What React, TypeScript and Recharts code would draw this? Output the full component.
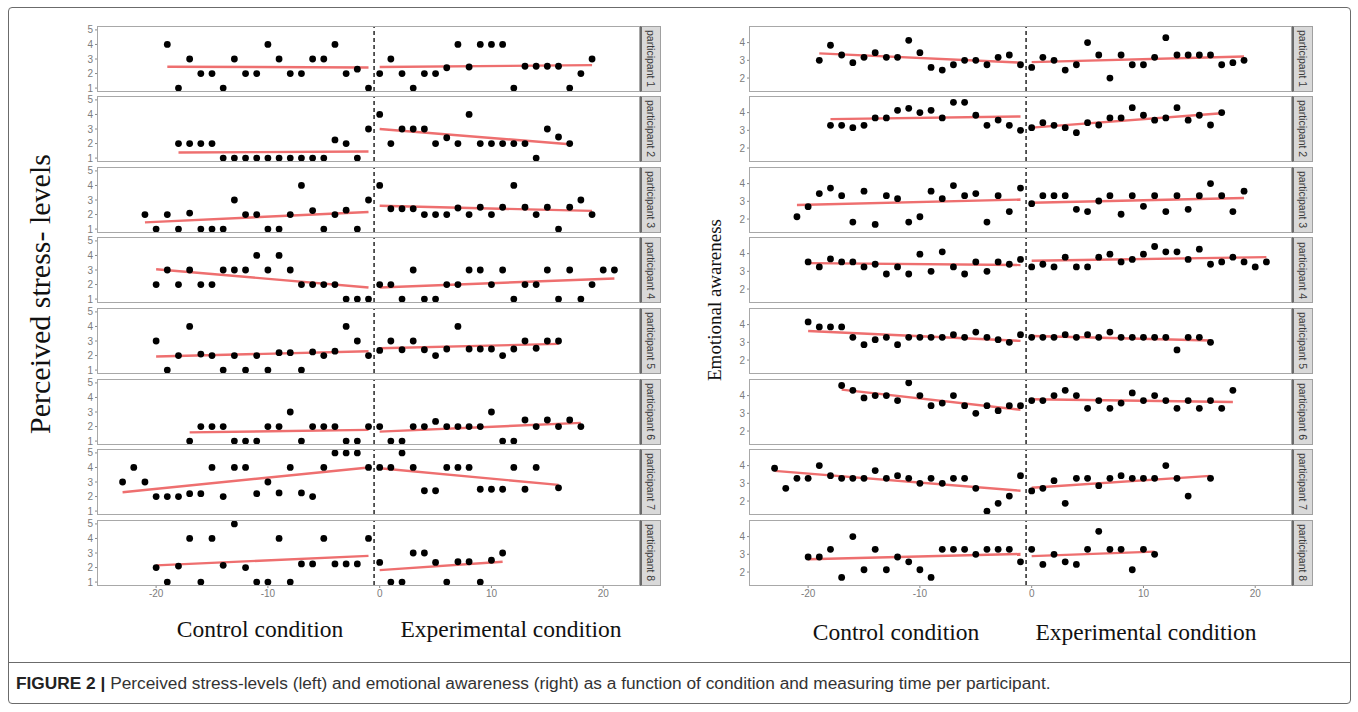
import React from 'react';
import { ScatterChart, Scatter, XAxis, YAxis, ReferenceLine } from 'recharts';

type Pt = [number, number];
type Fit = [number, number, number, number];

// ---------- Perceived stress-levels (left) ----------
const stressP1: Pt[] = [[-19,4],[-18,1],[-17,3],[-16,2],[-15,2],[-14,1],[-13,3],[-12,2],[-11,2],[-10,4],[-9,3],[-8,2],[-7,2],[-6,3],[-5,3],[-4,4],[-3,2],[-2,2.3],[-1,1],[0,2],[1,3],[2,2],[3,1],[4,2],[5,2],[6,2.4],[7,4],[8,2.45],[9,4],[10,4],[11,4],[12,1],[13,2.5],[14,2.5],[15,2.5],[16,2.5],[17,1],[18,2],[19,3]];
const stressP2: Pt[] = [[-18,2],[-17,2],[-16,2],[-15,2],[-14,1],[-13,1],[-12,1],[-11,1],[-10,1],[-9,1],[-8,1],[-7,1],[-6,1],[-5,1],[-4,2.25],[-3,2],[-2,1],[-1,3],[0,4],[1,2],[2,3],[3,3],[4,3],[5,2],[6,2.4],[7,2],[8,4],[9,2],[10,2],[11,2],[12,2],[13,2],[14,1],[15,3],[16,2.45],[17,2]];
const stressP3: Pt[] = [[-21,2],[-20,1],[-19,2],[-18,1],[-17,2.1],[-16,1],[-15,1],[-14,1],[-13,3],[-12,2],[-11,2],[-10,1],[-9,1],[-8,2],[-7,4],[-6,2.27],[-5,1],[-4,2],[-3,2.3],[-2,1],[-1,3],[0,4],[1,2.4],[2,2.4],[3,2.4],[4,2],[5,2],[6,2],[7,2.45],[8,2],[9,2.5],[10,2],[11,2.5],[12,4],[13,2.5],[14,2],[15,2.5],[16,1],[17,2.5],[18,3],[19,2]];
const stressP4: Pt[] = [[-20,2],[-19,3],[-18,2],[-17,3],[-16,2],[-15,2],[-14,3],[-13,3],[-12,3],[-11,4],[-10,3],[-9,4],[-8,3],[-7,2],[-6,2],[-5,2],[-4,2],[-3,1],[-2,1],[-1,1],[0,2],[1,2],[2,1],[3,3],[4,1],[5,1],[6,2],[7,2],[8,3],[9,3],[10,2],[11,3],[12,1],[13,2],[14,2],[15,3],[16,1],[17,3],[18,1],[19,2],[20,3],[21,3]];
const stressP5: Pt[] = [[-20,3],[-19,1],[-18,2],[-17,4],[-16,2.1],[-15,2],[-14,1],[-13,2],[-12,1],[-11,2],[-10,1],[-9,2.2],[-8,2.2],[-7,1],[-6,2.25],[-5,2],[-4,2.3],[-3,4],[-2,3],[-1,2],[0,2.35],[1,3],[2,2.4],[3,3],[4,2.4],[5,2],[6,2.45],[7,4],[8,2.45],[9,2.45],[10,2.45],[11,2],[12,2.45],[13,3],[14,2.5],[15,3],[16,3]];
const stressP6: Pt[] = [[-17,1],[-16,2],[-15,2],[-14,2],[-13,1],[-12,1],[-11,1],[-10,2],[-9,2],[-8,3],[-7,1],[-6,2],[-5,2],[-4,2],[-3,1],[-2,1],[-1,2],[0,2],[1,1],[2,1],[3,2],[4,2],[5,2.35],[6,2],[7,2],[8,2],[9,2],[10,3],[11,1],[12,1],[13,2.45],[14,2],[15,2.45],[16,2],[17,2.45],[18,2]];
const stressP7: Pt[] = [[-23,3],[-22,4],[-21,3],[-20,2],[-19,2],[-18,2],[-17,2.2],[-16,2.2],[-15,4],[-14,2],[-13,4],[-12,4],[-11,2.2],[-10,3],[-9,2.25],[-8,4],[-7,2.25],[-6,2],[-5,4],[-4,5],[-3,5],[-2,5],[-1,4],[0,4],[1,4],[2,5],[3,4],[4,2.4],[5,2.4],[6,4],[7,4],[8,4],[9,2.5],[10,2.5],[11,2.5],[12,4],[13,2.5],[14,4],[16,2.6]];
const stressP8: Pt[] = [[-20,2],[-19,1],[-18,2.1],[-17,4],[-16,1],[-15,4],[-14,2.15],[-13,5],[-12,2],[-11,1],[-10,1],[-9,4],[-8,1],[-7,2.25],[-6,2.25],[-5,4],[-4,2.25],[-3,2.25],[-2,2.25],[-1,4],[0,2.35],[1,1],[2,1],[3,3],[4,3],[5,2.35],[6,1],[7,2.4],[8,2.4],[9,1],[10,2.5],[11,3]];

// regression segments [x1, y1, x2, y2] for control and experimental conditions
const stressFits: Fit[][] = [
  [[-19,2.47,-1,2.42],[0,2.45,19,2.58]],
  [[-18,1.38,-1,1.45],[0,3.0,17,1.95]],
  [[-21,1.46,-1,2.18],[0,2.6,19,2.25]],
  [[-20,3.05,-1,1.8],[0,1.8,21,2.42]],
  [[-20,1.93,-1,2.3],[0,2.5,16,2.8]],
  [[-17,1.6,-1,1.77],[0,1.65,18,2.25]],
  [[-23,2.3,-1,4.0],[0,3.95,16,2.8]],
  [[-20,2.15,-1,2.8],[0,1.82,11,2.4]],
];

// ---------- Emotional awareness (right) ----------
const awareP1: Pt[] = [[-19,3.0],[-18,3.85],[-17,3.3],[-16,2.87],[-15,3.17],[-14,3.43],[-13,3.17],[-12,3.17],[-11,4.13],[-10,3.43],[-9,2.6],[-8,2.45],[-7,2.75],[-6,3.0],[-5,3.0],[-4,2.75],[-3,3.17],[-2,3.3],[-1,2.75],[0,2.6],[1,3.17],[2,3.0],[3,2.45],[4,2.75],[5,4.0],[6,3.3],[7,2.0],[8,3.3],[9,2.75],[10,2.75],[11,3.17],[12,4.28],[13,3.3],[14,3.3],[15,3.3],[16,3.3],[17,2.75],[18,2.87],[19,3.0]];
const awareP2: Pt[] = [[-18,3.28],[-17,3.28],[-16,3.15],[-15,3.28],[-14,3.7],[-13,3.7],[-12,4.13],[-11,4.24],[-10,4.0],[-9,4.13],[-8,3.7],[-7,4.58],[-6,4.58],[-5,3.85],[-4,3.28],[-3,3.58],[-2,3.28],[-1,3.0],[0,3.15],[1,3.43],[2,3.28],[3,3.15],[4,2.87],[5,3.43],[6,3.3],[7,3.7],[8,3.7],[9,4.28],[10,3.85],[11,3.57],[12,3.7],[13,4.28],[14,3.57],[15,3.85],[16,3.3],[17,4.0]];
const awareP3: Pt[] = [[-21,2.13],[-20,2.7],[-19,3.44],[-18,3.75],[-17,3.32],[-16,1.83],[-15,3.57],[-14,1.7],[-13,3.32],[-12,3.15],[-11,1.83],[-10,2.13],[-9,3.57],[-8,3.15],[-7,3.89],[-6,3.32],[-5,3.44],[-4,1.83],[-3,3.32],[-2,2.42],[-1,3.75],[0,2.87],[1,3.32],[2,3.32],[3,3.32],[4,2.55],[5,2.42],[6,3.02],[7,3.32],[8,2.27],[9,3.32],[10,2.72],[11,3.32],[12,2.42],[13,3.32],[14,2.55],[15,3.32],[16,4.0],[17,3.32],[18,2.42],[19,3.57]];
const awareP4: Pt[] = [[-20,3.53],[-19,3.25],[-18,3.7],[-17,3.53],[-16,3.53],[-15,3.25],[-14,3.4],[-13,2.85],[-12,3.25],[-11,2.85],[-10,3.97],[-9,3.0],[-8,4.1],[-7,3.25],[-6,2.85],[-5,3.53],[-4,3.0],[-3,3.53],[-2,3.4],[-1,3.67],[0,3.25],[1,3.4],[2,3.25],[3,3.8],[4,3.25],[5,3.25],[6,3.8],[7,3.97],[8,3.53],[9,3.67],[10,3.97],[11,4.4],[12,4.1],[13,4.1],[14,3.67],[15,4.25],[16,3.4],[17,3.53],[18,3.8],[19,3.53],[20,3.25],[21,3.53]];
const awareP5: Pt[] = [[-20,4.15],[-19,3.87],[-18,3.87],[-17,3.87],[-16,3.28],[-15,2.87],[-14,3.15],[-13,3.28],[-12,2.87],[-11,3.28],[-10,3.28],[-9,3.28],[-8,3.28],[-7,3.43],[-6,3.28],[-5,3.58],[-4,3.28],[-3,3.15],[-2,3.0],[-1,3.43],[0,3.28],[1,3.28],[2,3.28],[3,3.43],[4,3.28],[5,3.43],[6,3.28],[7,3.58],[8,3.28],[9,3.28],[10,3.28],[11,3.28],[12,3.28],[13,2.57],[14,3.28],[15,3.28],[16,3.0]];
const awareP6: Pt[] = [[-17,4.57],[-16,4.3],[-15,3.87],[-14,4.0],[-13,4.0],[-12,3.72],[-11,4.72],[-10,4.0],[-9,3.43],[-8,3.58],[-7,4.0],[-6,3.43],[-5,3.0],[-4,3.43],[-3,3.15],[-2,3.43],[-1,3.43],[0,3.72],[1,3.72],[2,4.0],[3,4.3],[4,4.0],[5,3.28],[6,3.72],[7,3.28],[8,3.58],[9,4.15],[10,3.72],[11,4.0],[12,3.72],[13,3.28],[14,3.72],[15,3.28],[16,3.72],[17,3.28],[18,4.3]];
const awareP7: Pt[] = [[-23,3.85],[-22,2.72],[-21,3.28],[-20,3.28],[-19,4.0],[-18,3.43],[-17,3.28],[-16,3.28],[-15,3.28],[-14,3.72],[-13,3.28],[-12,3.43],[-11,3.28],[-10,3.0],[-9,3.28],[-8,3.0],[-7,3.28],[-6,3.28],[-5,2.72],[-4,1.43],[-3,1.87],[-2,2.28],[-1,3.43],[0,2.57],[1,2.72],[2,3.15],[3,1.87],[4,3.28],[5,3.28],[6,2.87],[7,3.28],[8,3.43],[9,3.28],[10,3.28],[11,3.28],[12,4.0],[13,3.28],[14,2.28],[16,3.28]];
const awareP8: Pt[] = [[-20,2.85],[-19,2.85],[-18,3.28],[-17,1.7],[-16,4.0],[-15,2.13],[-14,3.28],[-13,2.13],[-12,2.85],[-11,2.58],[-10,2.13],[-9,1.7],[-8,3.28],[-7,3.28],[-6,3.28],[-5,3.0],[-4,3.28],[-3,3.28],[-2,3.28],[-1,2.58],[0,3.28],[1,2.43],[2,3.0],[3,2.58],[4,2.43],[5,3.28],[6,4.3],[7,3.28],[8,3.28],[9,2.13],[10,3.28],[11,3.0]];

const awareFits: Fit[][] = [
  [[-19,3.39,-1,2.87],[0,2.9,19,3.22]],
  [[-18,3.63,-1,3.78],[0,3.15,17,3.96]],
  [[-21,2.79,-1,3.1],[0,2.92,19,3.19]],
  [[-20,3.46,-1,3.36],[0,3.6,21,3.8]],
  [[-20,3.64,-1,3.08],[0,3.36,16,3.1]],
  [[-17,4.34,-1,3.2],[0,3.79,18,3.64]],
  [[-23,3.7,-1,2.58],[0,2.75,16,3.42]],
  [[-20,2.72,-1,3.02],[0,2.9,11,3.15]],
];

const stressData = [stressP1, stressP2, stressP3, stressP4, stressP5, stressP6, stressP7, stressP8];
const awareData = [awareP1, awareP2, awareP3, awareP4, awareP5, awareP6, awareP7, awareP8];

const participantLabels = ['participant 1','participant 2','participant 3','participant 4','participant 5','participant 6','participant 7','participant 8'];
const xTicks = [-20, -10, 0, 10, 20];
const xDomain: [number, number] = [-25.2, 23.2];
const stressTicks = [1, 2, 3, 4, 5];
const stressDomain: [number, number] = [0.8, 5.2];
const awareTicks = [2, 3, 4];
const awareDomain: [number, number] = [1.27, 4.88];
const conditionLine = -0.5;

// ---------- layout ----------
const BOX_W = 541;
const BOX_H = 64;
const ROW_STEP = 70.6;
const FIRST_TOP = 26.5;
const YAXIS_W = 26;
const X_AXIS_H = 22;
const PAD = 7;
const RED = '#ee6f6f';
const GREY_TXT = '#7c7c7c';
const SERIF = '"Liberation Serif", "Times New Roman", serif';
const SANS = '"Liberation Sans", Arial, sans-serif';

const Dot = (props: any) => {
  if (props.cx == null || props.cy == null) return <g />;
  return <circle cx={props.cx} cy={props.cy} r={3.4} fill="#000" />;
};
const NoDot = () => <g />;

function Facet(props: {
  pts: Pt[]; fits: Fit[]; left: number; top: number;
  yDomain: [number, number]; yTicks: number[]; showX: boolean; label: string;
}) {
  const { pts, fits, left, top, yDomain, yTicks, showX, label } = props;
  const h = PAD + BOX_H + (showX ? X_AXIS_H : PAD);
  const w = BOX_W + YAXIS_W;
  const data = pts.map(([x, y]) => ({ x, y }));
  return (
    <>
      <div style={{ position: 'absolute', left: left - YAXIS_W, top: top - PAD, width: w, height: h }}>
        <ScatterChart width={w} height={h} margin={{ top: PAD, right: 0, bottom: showX ? 0 : PAD, left: 0 }}>
          <XAxis
            type="number" dataKey="x" domain={xDomain} ticks={xTicks} hide={!showX}
            allowDataOverflow interval={0} height={X_AXIS_H} axisLine={false}
            tickSize={3} tickLine={{ stroke: '#8a8a8a' }}
            tick={{ fill: GREY_TXT, fontSize: 10, fontFamily: SANS }}
          />
          <YAxis
            type="number" dataKey="y" domain={yDomain} ticks={yTicks} allowDataOverflow
            interval={0} width={YAXIS_W} axisLine={false} tickSize={3}
            tickLine={{ stroke: '#8a8a8a' }}
            tick={{ fill: GREY_TXT, fontSize: 10, fontFamily: SANS }}
          />
          <ReferenceLine x={conditionLine} stroke="#333" strokeWidth={1.6} strokeDasharray="4 3" />
          {fits.map((f, i) => (
            <Scatter
              key={'f' + i}
              data={[{ x: f[0], y: f[1] }, { x: f[2], y: f[3] }]}
              line={{ stroke: RED, strokeWidth: 2.4 }}
              shape={NoDot}
              isAnimationActive={false}
            />
          ))}
          <Scatter data={data} shape={Dot} isAnimationActive={false} />
        </ScatterChart>
      </div>
      <div style={{
        position: 'absolute', left: left - 1, top: top - 1, width: BOX_W, height: BOX_H,
        border: '1.5px solid #a8a8a8', pointerEvents: 'none', boxSizing: 'content-box',
      }} />
      <div style={{
        position: 'absolute', left: left + BOX_W + 1, top: top - 1, width: 18, height: BOX_H,
        background: '#d9d9d9', border: '1px solid #a0a0a0', borderLeft: '2px solid #6a6a6a',
        display: 'flex', alignItems: 'center', justifyContent: 'center', overflow: 'hidden',
      }}>
        <span style={{
          writingMode: 'vertical-rl', fontFamily: SANS, fontSize: 10.5, color: '#3a3a3a',
          whiteSpace: 'nowrap', lineHeight: 1,
        }}>{label}</span>
      </div>
    </>
  );
}

function Panel(props: {
  left: number; datasets: Pt[][]; fits: Fit[][]; yDomain: [number, number]; yTicks: number[];
}) {
  const { left, datasets, fits, yDomain, yTicks } = props;
  return (
    <>
      {datasets.map((pts, i) => (
        <Facet
          key={i} pts={pts} fits={fits[i]} left={left} top={FIRST_TOP + i * ROW_STEP}
          yDomain={yDomain} yTicks={yTicks} showX={i === datasets.length - 1}
          label={participantLabels[i]}
        />
      ))}
    </>
  );
}

const textStyle = (extra: React.CSSProperties): React.CSSProperties => ({
  position: 'absolute', fontFamily: SERIF, color: '#111', whiteSpace: 'nowrap', lineHeight: 1, ...extra,
});

export default function App() {
  return (
    <div style={{ position: 'absolute', left: 0, top: 0, width: 1358, height: 712, background: '#fff', overflow: 'hidden' }}>
      {/* frame */}
      <div style={{ position: 'absolute', left: 8, top: 7, width: 1341, height: 695, border: '1.5px solid #6b6b6b', borderRadius: 4 }} />
      <div style={{ position: 'absolute', left: 8, top: 662, width: 1343, height: 0, borderTop: '1.5px solid #6b6b6b' }} />

      <Panel left={98} datasets={stressData} fits={stressFits} yDomain={stressDomain} yTicks={stressTicks} />
      <Panel left={750} datasets={awareData} fits={awareFits} yDomain={awareDomain} yTicks={awareTicks} />

      {/* axis titles */}
      <div style={textStyle({ left: 40, top: 294, fontSize: 30, transform: 'translate(-50%, -50%) rotate(-90deg)' })}>
        Perceived stress- levels
      </div>
      <div style={textStyle({ left: 714, top: 300, fontSize: 19, transform: 'translate(-50%, -50%) rotate(-90deg)' })}>
        Emotional awareness
      </div>

      <div style={textStyle({ left: 260, top: 630, fontSize: 23.5, transform: 'translate(-50%, -50%)' })}>Control condition</div>
      <div style={textStyle({ left: 511, top: 630, fontSize: 23.5, transform: 'translate(-50%, -50%)' })}>Experimental condition</div>
      <div style={textStyle({ left: 896, top: 633, fontSize: 23.5, transform: 'translate(-50%, -50%)' })}>Control condition</div>
      <div style={textStyle({ left: 1146, top: 633, fontSize: 23.5, transform: 'translate(-50%, -50%)' })}>Experimental condition</div>

      {/* caption */}
      <div style={{ position: 'absolute', left: 16, top: 673, fontFamily: SANS, fontSize: 17.3, color: '#333', whiteSpace: 'nowrap' }}>
        <span style={{ fontWeight: 700, color: '#222' }}>FIGURE 2 |</span>{' '}
        Perceived stress-levels (left) and emotional awareness (right) as a function of condition and measuring time per participant.
      </div>
    </div>
  );
}
